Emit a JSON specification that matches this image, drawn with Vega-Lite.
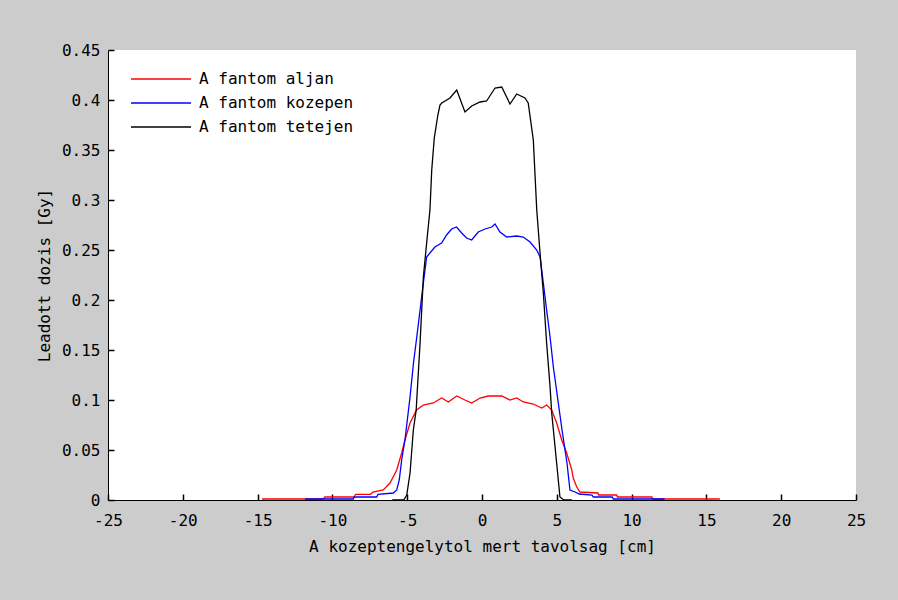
{
  "$schema": "https://vega.github.io/schema/vega-lite/v6.json",
  "autosize": {"type": "none"},
  "width": 748,
  "height": 450,
  "padding": {"left": 108, "top": 50, "right": 42, "bottom": 100},
  "background": "#cccccc",
  "config": {
    "view": {"fill": "white", "stroke": null},
    "font": "DejaVu Sans Mono",
    "axis": {
      "grid": false,
      "zindex": 1,
      "domainColor": "black",
      "domainWidth": 1,
      "tickColor": "black",
      "labelFont": "DejaVu Sans Mono",
      "labelFontSize": 16,
      "labelColor": "black",
      "titleFont": "DejaVu Sans Mono",
      "titleFontSize": 16,
      "titleFontWeight": "normal",
      "titleColor": "black"
    }
  },
  "data": {
    "values": [
      {"series": "A fantom aljan", "x": -14.7, "y": 0.001},
      {"series": "A fantom aljan", "x": -10.6, "y": 0.001},
      {"series": "A fantom aljan", "x": -10.5, "y": 0.003},
      {"series": "A fantom aljan", "x": -8.55, "y": 0.003},
      {"series": "A fantom aljan", "x": -8.45, "y": 0.0057},
      {"series": "A fantom aljan", "x": -7.45, "y": 0.0057},
      {"series": "A fantom aljan", "x": -7.3, "y": 0.008},
      {"series": "A fantom aljan", "x": -6.6, "y": 0.01},
      {"series": "A fantom aljan", "x": -6.15, "y": 0.017},
      {"series": "A fantom aljan", "x": -5.7, "y": 0.03},
      {"series": "A fantom aljan", "x": -5.37, "y": 0.047},
      {"series": "A fantom aljan", "x": -5.15, "y": 0.06},
      {"series": "A fantom aljan", "x": -4.81, "y": 0.077},
      {"series": "A fantom aljan", "x": -4.37, "y": 0.09},
      {"series": "A fantom aljan", "x": -3.92, "y": 0.095},
      {"series": "A fantom aljan", "x": -3.26, "y": 0.097},
      {"series": "A fantom aljan", "x": -2.69, "y": 0.102},
      {"series": "A fantom aljan", "x": -2.25, "y": 0.098},
      {"series": "A fantom aljan", "x": -1.69, "y": 0.104},
      {"series": "A fantom aljan", "x": -1.14, "y": 0.1},
      {"series": "A fantom aljan", "x": -0.69, "y": 0.097},
      {"series": "A fantom aljan", "x": -0.13, "y": 0.102},
      {"series": "A fantom aljan", "x": 0.42, "y": 0.104},
      {"series": "A fantom aljan", "x": 1.32, "y": 0.104},
      {"series": "A fantom aljan", "x": 1.87, "y": 0.1},
      {"series": "A fantom aljan", "x": 2.32, "y": 0.102},
      {"series": "A fantom aljan", "x": 2.76, "y": 0.098},
      {"series": "A fantom aljan", "x": 3.43, "y": 0.096},
      {"series": "A fantom aljan", "x": 3.99, "y": 0.092},
      {"series": "A fantom aljan", "x": 4.32, "y": 0.095},
      {"series": "A fantom aljan", "x": 4.66, "y": 0.09},
      {"series": "A fantom aljan", "x": 4.99, "y": 0.077},
      {"series": "A fantom aljan", "x": 5.33, "y": 0.06},
      {"series": "A fantom aljan", "x": 5.66, "y": 0.047},
      {"series": "A fantom aljan", "x": 6.0, "y": 0.03},
      {"series": "A fantom aljan", "x": 6.1, "y": 0.022},
      {"series": "A fantom aljan", "x": 6.33, "y": 0.013},
      {"series": "A fantom aljan", "x": 6.55, "y": 0.008},
      {"series": "A fantom aljan", "x": 7.75, "y": 0.007},
      {"series": "A fantom aljan", "x": 7.8, "y": 0.005},
      {"series": "A fantom aljan", "x": 9.0, "y": 0.005},
      {"series": "A fantom aljan", "x": 9.05, "y": 0.003},
      {"series": "A fantom aljan", "x": 11.36, "y": 0.003},
      {"series": "A fantom aljan", "x": 11.4, "y": 0.001},
      {"series": "A fantom aljan", "x": 15.9, "y": 0.001},

      {"series": "A fantom kozepen", "x": -11.83, "y": 0.001},
      {"series": "A fantom kozepen", "x": -8.6, "y": 0.001},
      {"series": "A fantom kozepen", "x": -8.55, "y": 0.003},
      {"series": "A fantom kozepen", "x": -7.04, "y": 0.003},
      {"series": "A fantom kozepen", "x": -6.95, "y": 0.0057},
      {"series": "A fantom kozepen", "x": -5.93, "y": 0.007},
      {"series": "A fantom kozepen", "x": -5.7, "y": 0.01},
      {"series": "A fantom kozepen", "x": -5.53, "y": 0.02},
      {"series": "A fantom kozepen", "x": -5.37, "y": 0.04},
      {"series": "A fantom kozepen", "x": -5.15, "y": 0.06},
      {"series": "A fantom kozepen", "x": -4.81, "y": 0.103},
      {"series": "A fantom kozepen", "x": -4.58, "y": 0.137},
      {"series": "A fantom kozepen", "x": -4.36, "y": 0.163},
      {"series": "A fantom kozepen", "x": -4.14, "y": 0.19},
      {"series": "A fantom kozepen", "x": -3.92, "y": 0.217},
      {"series": "A fantom kozepen", "x": -3.7, "y": 0.243},
      {"series": "A fantom kozepen", "x": -3.15, "y": 0.253},
      {"series": "A fantom kozepen", "x": -2.7, "y": 0.257},
      {"series": "A fantom kozepen", "x": -2.37, "y": 0.265},
      {"series": "A fantom kozepen", "x": -2.03, "y": 0.271},
      {"series": "A fantom kozepen", "x": -1.7, "y": 0.273},
      {"series": "A fantom kozepen", "x": -1.36, "y": 0.267},
      {"series": "A fantom kozepen", "x": -1.03, "y": 0.262},
      {"series": "A fantom kozepen", "x": -0.69, "y": 0.26},
      {"series": "A fantom kozepen", "x": -0.25, "y": 0.268},
      {"series": "A fantom kozepen", "x": 0.2, "y": 0.271},
      {"series": "A fantom kozepen", "x": 0.65, "y": 0.273},
      {"series": "A fantom kozepen", "x": 0.87, "y": 0.276},
      {"series": "A fantom kozepen", "x": 1.2, "y": 0.268},
      {"series": "A fantom kozepen", "x": 1.65, "y": 0.263},
      {"series": "A fantom kozepen", "x": 2.32, "y": 0.264},
      {"series": "A fantom kozepen", "x": 2.76, "y": 0.263},
      {"series": "A fantom kozepen", "x": 3.21, "y": 0.258},
      {"series": "A fantom kozepen", "x": 3.66, "y": 0.25},
      {"series": "A fantom kozepen", "x": 3.88, "y": 0.243},
      {"series": "A fantom kozepen", "x": 4.1, "y": 0.217},
      {"series": "A fantom kozepen", "x": 4.32, "y": 0.19},
      {"series": "A fantom kozepen", "x": 4.55, "y": 0.163},
      {"series": "A fantom kozepen", "x": 4.77, "y": 0.133},
      {"series": "A fantom kozepen", "x": 5.1, "y": 0.097},
      {"series": "A fantom kozepen", "x": 5.35, "y": 0.07},
      {"series": "A fantom kozepen", "x": 5.68, "y": 0.037},
      {"series": "A fantom kozepen", "x": 5.88, "y": 0.01},
      {"series": "A fantom kozepen", "x": 6.22, "y": 0.008},
      {"series": "A fantom kozepen", "x": 6.5, "y": 0.006},
      {"series": "A fantom kozepen", "x": 7.35, "y": 0.005},
      {"series": "A fantom kozepen", "x": 7.44, "y": 0.003},
      {"series": "A fantom kozepen", "x": 8.7, "y": 0.003},
      {"series": "A fantom kozepen", "x": 8.78, "y": 0.001},
      {"series": "A fantom kozepen", "x": 12.2, "y": 0.001},

      {"series": "A fantom tetejen", "x": -6.0, "y": 0},
      {"series": "A fantom tetejen", "x": -5.23, "y": 0},
      {"series": "A fantom tetejen", "x": -5.03, "y": 0.005},
      {"series": "A fantom tetejen", "x": -4.81, "y": 0.027},
      {"series": "A fantom tetejen", "x": -4.59, "y": 0.07},
      {"series": "A fantom tetejen", "x": -4.4, "y": 0.09},
      {"series": "A fantom tetejen", "x": -4.14, "y": 0.157},
      {"series": "A fantom tetejen", "x": -3.92, "y": 0.223},
      {"series": "A fantom tetejen", "x": -3.7, "y": 0.257},
      {"series": "A fantom tetejen", "x": -3.48, "y": 0.29},
      {"series": "A fantom tetejen", "x": -3.36, "y": 0.33},
      {"series": "A fantom tetejen", "x": -3.19, "y": 0.362},
      {"series": "A fantom tetejen", "x": -2.95, "y": 0.385},
      {"series": "A fantom tetejen", "x": -2.81, "y": 0.395},
      {"series": "A fantom tetejen", "x": -2.69, "y": 0.397},
      {"series": "A fantom tetejen", "x": -2.14, "y": 0.402},
      {"series": "A fantom tetejen", "x": -1.69, "y": 0.41},
      {"series": "A fantom tetejen", "x": -1.14, "y": 0.388},
      {"series": "A fantom tetejen", "x": -0.69, "y": 0.394},
      {"series": "A fantom tetejen", "x": -0.13, "y": 0.398},
      {"series": "A fantom tetejen", "x": 0.31, "y": 0.399},
      {"series": "A fantom tetejen", "x": 0.87, "y": 0.412},
      {"series": "A fantom tetejen", "x": 1.32, "y": 0.413},
      {"series": "A fantom tetejen", "x": 1.87, "y": 0.396},
      {"series": "A fantom tetejen", "x": 2.32, "y": 0.406},
      {"series": "A fantom tetejen", "x": 2.87, "y": 0.402},
      {"series": "A fantom tetejen", "x": 3.09, "y": 0.397},
      {"series": "A fantom tetejen", "x": 3.43, "y": 0.36},
      {"series": "A fantom tetejen", "x": 3.66, "y": 0.29},
      {"series": "A fantom tetejen", "x": 3.88, "y": 0.247},
      {"series": "A fantom tetejen", "x": 4.1, "y": 0.207},
      {"series": "A fantom tetejen", "x": 4.32, "y": 0.157},
      {"series": "A fantom tetejen", "x": 4.55, "y": 0.113},
      {"series": "A fantom tetejen", "x": 4.66, "y": 0.087},
      {"series": "A fantom tetejen", "x": 4.99, "y": 0.037},
      {"series": "A fantom tetejen", "x": 5.21, "y": 0.003},
      {"series": "A fantom tetejen", "x": 5.48, "y": 0},
      {"series": "A fantom tetejen", "x": 6.0, "y": 0}
    ]
  },
  "mark": {"type": "line", "strokeWidth": 1.3, "clip": true},
  "encoding": {
    "x": {
      "field": "x",
      "type": "quantitative",
      "scale": {"domain": [-25, 25], "nice": false, "zero": false},
      "axis": {
        "title": "A kozeptengelytol mert tavolsag [cm]",
        "values": [-25, -20, -15, -10, -5, 0, 5, 10, 15, 20, 25],
        "labelExpr": "replace(datum.label, '\u2212', '-')",
        "ticks": true,
        "tickSize": -6,
        "tickWidth": 1.5,
        "labelPadding": 18,
        "labelFlush": false,
        "labelOverlap": false,
        "titlePadding": 10
      }
    },
    "y": {
      "field": "y",
      "type": "quantitative",
      "scale": {"domain": [0, 0.45], "nice": false},
      "axis": {
        "title": "Leadott dozis [Gy]",
        "values": [0, 0.05, 0.1, 0.15, 0.2, 0.25, 0.3, 0.35, 0.4, 0.45],
        "format": ".2~f",
        "ticks": true,
        "tickSize": -6,
        "tickWidth": 1.5,
        "labelPadding": 14,
        "labelFlush": false,
        "labelOverlap": false,
        "titlePadding": 9
      }
    },
    "color": {
      "field": "series",
      "type": "nominal",
      "scale": {
        "domain": ["A fantom aljan", "A fantom kozepen", "A fantom tetejen"],
        "range": ["#ff0000", "#0000ff", "#000000"]
      },
      "legend": {
        "title": null,
        "orient": "none",
        "legendX": 42,
        "legendY": 18,
        "padding": 0,
        "symbolType": "M-3,0H3",
        "symbolSize": 400,
        "symbolStrokeWidth": 1.5,
        "labelFont": "DejaVu Sans Mono",
        "labelFontSize": 16,
        "labelColor": "black",
        "labelOffset": 27,
        "rowPadding": 5
      }
    }
  }
}
